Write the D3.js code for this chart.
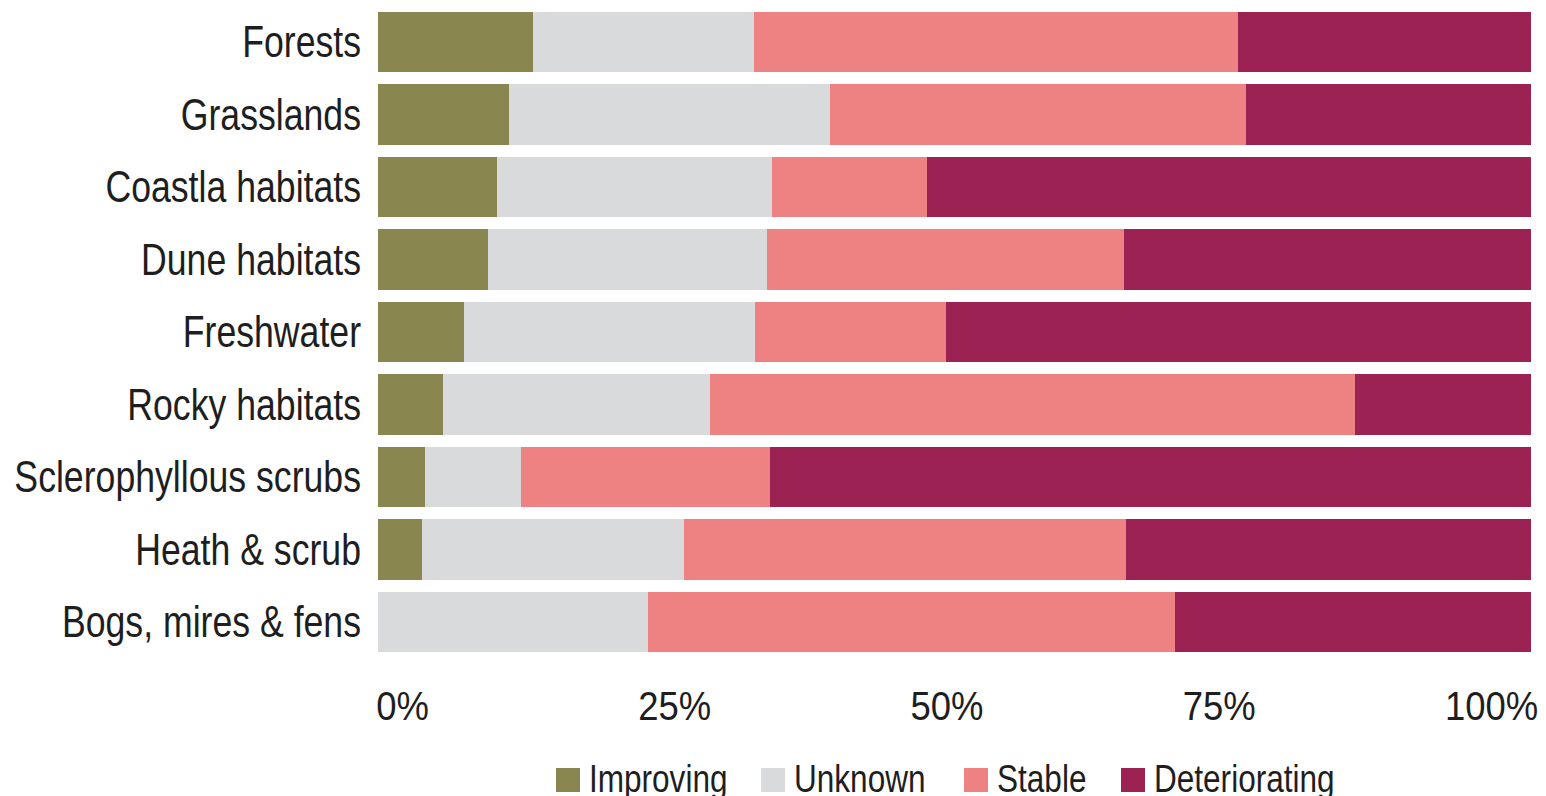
<!DOCTYPE html>
<html>
<head>
<meta charset="utf-8">
<script src="https://cdn.jsdelivr.net/npm/d3@7/dist/d3.min.js"></script>
<style>
  html, body { margin: 0; padding: 0; background: #fff; }
  svg { display: block; }
  text { font-family: "Liberation Sans", Arial, sans-serif; fill: #1e1e1e; }
</style>
</head>
<body>
<svg id="chart" width="1546" height="796"></svg>
<script>
const categories = ["Forests", "Grasslands", "Coastla habitats", "Dune habitats", "Freshwater",
  "Rocky habitats", "Sclerophyllous scrubs", "Heath & scrub", "Bogs, mires & fens"];
const seriesNames = ["Improving", "Unknown", "Stable", "Deteriorating"];
const improving     = [13.4, 11.4, 10.3, 9.5, 7.5, 5.6, 4.1, 3.8, 0.0];
const unknown       = [19.2, 27.8, 23.9, 24.2, 25.2, 23.2, 8.3, 22.7, 23.4];
const stable        = [42.0, 36.1, 13.4, 31.0, 16.6, 55.9, 21.6, 38.4, 45.7];
const deteriorating = [25.4, 24.7, 52.4, 35.3, 50.7, 15.3, 66.0, 35.1, 30.9];
const tickValues = [0, 25, 50, 75, 100];
const tickLabels = ["0%", "25%", "50%", "75%", "100%"];
const colors = ["#8a8650", "#d9dadc", "#ee8282", "#9c2253"];

const svg = d3.select("#chart");
const fontSize = 44;
const tickFontSize = 40.5;
const legendFontSize = 38;

// condense text horizontally (reference uses a narrow typeface)
function narrow(sel, f) {
  sel.each(function () {
    const w = this.getComputedTextLength();
    d3.select(this).attr("textLength", w * f).attr("lengthAdjust", "spacingAndGlyphs");
  });
}

const rows = categories.map((c, i) => ({
  category: c,
  Improving: improving[i],
  Unknown: unknown[i],
  Stable: stable[i],
  Deteriorating: deteriorating[i]
}));

const stack = d3.stack().keys(seriesNames)(rows);

const x = d3.scaleLinear().domain([0, 100]).range([378, 1531]);
const y = d3.scaleBand().domain(categories).range([12, 652]).paddingInner(0.17).paddingOuter(0);
const color = d3.scaleOrdinal().domain(seriesNames).range(colors);

// bars
svg.append("g")
  .selectAll("g")
  .data(stack)
  .join("g")
  .attr("fill", d => color(d.key))
  .selectAll("rect")
  .data(d => d)
  .join("rect")
  .attr("x", d => x(d[0]))
  .attr("y", d => y(d.data.category))
  .attr("width", d => Math.max(0, x(d[1]) - x(d[0])))
  .attr("height", y.bandwidth())
  .attr("shape-rendering", "crispEdges");

// category labels
const yAxis = svg.append("g")
  .attr("transform", "translate(361,0)")
  .call(d3.axisLeft(y).tickSize(0).tickPadding(0));
yAxis.select(".domain").remove();
yAxis.selectAll("text")
  .attr("font-size", fontSize)
  .attr("fill", "#1e1e1e")
  .attr("dy", "0.35em")
  .call(narrow, 0.81);

// x tick labels (spread evenly like reference)
const xLabelPos = d3.scalePoint().domain(tickValues).range([402, 1491]);
const xAxis = svg.append("g")
  .attr("transform", "translate(0,720)")
  .call(d3.axisBottom(xLabelPos).tickSize(0).tickPadding(0).tickFormat((d, i) => tickLabels[i]));
xAxis.select(".domain").remove();
xAxis.selectAll("text")
  .attr("font-size", tickFontSize)
  .attr("fill", "#1e1e1e")
  .attr("dy", 0)
  .call(narrow, 0.9);

// legend
const legendX = [556, 761, 964, 1121];
const legend = svg.append("g");
const items = legend.selectAll("g")
  .data(seriesNames)
  .join("g")
  .attr("transform", (d, i) => `translate(${legendX[i]},768)`);
items.append("rect")
  .attr("width", 24)
  .attr("height", 24)
  .attr("fill", d => color(d));
items.append("text")
  .attr("x", 33)
  .attr("y", 24)
  .attr("font-size", legendFontSize)
  .text(d => d)
  .call(narrow, 0.83);
</script>
</body>
</html>
